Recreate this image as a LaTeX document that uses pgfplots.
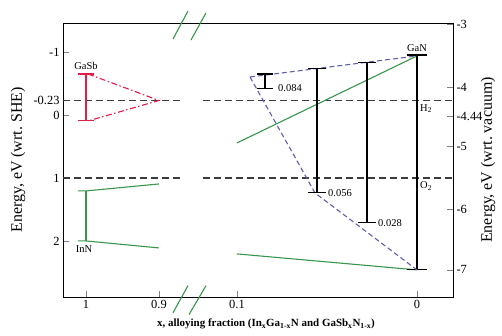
\documentclass[border=0pt]{standalone}
\usepackage{fontspec}
\setmainfont{Liberation Serif}
\usepackage{pgfplots}
\pgfplotsset{compat=1.18}
\definecolor{myred}{RGB}{225,30,70}
\definecolor{mygreen}{RGB}{55,150,75}
\definecolor{myblue}{RGB}{95,95,175}
\definecolor{mygray}{RGB}{60,60,60}
\begin{document}
\begin{tikzpicture}
\useasboundingbox (-63bp,-39bp) rectangle (439bp,297bp);
\begin{axis}[
 at={(0,0)}, anchor=south west,
 scale only axis, width=390bp, height=274bp,
 xmin=63, xmax=453, ymin=-1.46, ymax=2.89, y dir=reverse,
 xtick={86,159,237,417}, xticklabels={1,0.9,0.1,0},
 ytick={-1,-0.23,0,1,2}, yticklabels={-1,-0.23,0,1,2},
 xtick pos=bottom, ytick pos=left, tick align=inside,
 major tick length=6bp,
 tick label style={font=\fontsize{12.5}{14}\selectfont},
 ylabel={Energy, eV (wrt.\ SHE)},
 ylabel style={font=\fontsize{16}{18}\selectfont, at={(axis description cs:-0.115,0.5)}, anchor=center},
 xlabel={\textbf{x, alloying fraction (In\textsubscript{x}Ga\textsubscript{1-x}N and GaSb\textsubscript{x}N\textsubscript{1-x})}},
 xlabel style={font=\fontsize{11}{13}\selectfont, xshift=8bp, yshift=-3bp},
 clip=false,
 every axis plot/.append style={line width=1.1bp},
]
% reference levels
\addplot[mygray, dash pattern=on 7bp off 4bp] coordinates {(63,-0.23) (182,-0.23)};
\addplot[mygray, dash pattern=on 7bp off 4bp] coordinates {(203,-0.23) (453,-0.23)};
\addplot[mygray, dash pattern=on 7bp off 4bp] coordinates {(63,1) (182,1)};
\addplot[mygray, dash pattern=on 7bp off 4bp] coordinates {(203,1) (453,1)};
% GaSb
\addplot[myred] coordinates {(86,-0.651) (86,0.095)};
\addplot[myred] coordinates {(78,-0.651) (94,-0.651)};
\addplot[myred] coordinates {(78,0.095) (94,0.095)};
\addplot[myred, dash pattern=on 6bp off 2.5bp on 1.5bp off 2.5bp] coordinates {(88,-0.651) (159,-0.23) (88,0.095)};
% InN
\addplot[mygreen] coordinates {(86,1.206) (86,2.0)};
\addplot[mygreen] coordinates {(78,1.206) (86,1.206) (159,1.095)};
\addplot[mygreen] coordinates {(78,2.0) (86,2.0) (159,2.111)};
% InGaN right part
\addplot[mygreen] coordinates {(237,0.444) (417,-0.937)};
\addplot[mygreen] coordinates {(237,2.206) (417,2.46)};
% GaN
\addplot[black] coordinates {(417,-0.952) (417,2.46)};
\addplot[black] coordinates {(407,-0.952) (427,-0.952)};
\addplot[black] coordinates {(407,2.46) (427,2.46)};
% GaSbN
\addplot[myblue, dash pattern=on 5bp off 3bp] coordinates {(250,-0.603) (417,-0.937)};
\addplot[myblue, dash pattern=on 5bp off 3bp] coordinates {(250,-0.603) (315,1.238) (417,2.46)};
% gaps
\addplot[black] coordinates {(317,-0.737) (317,1.238)};
\addplot[black] coordinates {(308,-0.737) (326,-0.737)};
\addplot[black] coordinates {(308,1.238) (326,1.238)};
\addplot[black] coordinates {(367,-0.837) (367,1.714)};
\addplot[black] coordinates {(358,-0.837) (376,-0.837)};
\addplot[black] coordinates {(358,1.714) (376,1.714)};
\addplot[black] coordinates {(265,-0.651) (265,-0.413)};
\addplot[black] coordinates {(257,-0.651) (273,-0.651)};
\addplot[black] coordinates {(257,-0.413) (273,-0.413)};
% labels
\node[font=\fontsize{10.5}{12}\selectfont, anchor=west, inner sep=1pt] at (axis cs:277,-0.42) {0.084};
\node[font=\fontsize{10.5}{12}\selectfont, anchor=west, inner sep=1pt] at (axis cs:327,1.238) {0.056};
\node[font=\fontsize{10.5}{12}\selectfont, anchor=west, inner sep=1pt] at (axis cs:377,1.714) {0.028};
\node[font=\fontsize{10.5}{12}\selectfont, anchor=south, inner sep=1pt] at (axis cs:86,-0.70) {GaSb};
\node[font=\fontsize{10.5}{12}\selectfont, anchor=north, inner sep=1pt] at (axis cs:84,2.06) {InN};
\node[font=\fontsize{10.5}{12}\selectfont, anchor=south, inner sep=1pt] at (axis cs:417,-0.99) {GaN};
\node[font=\fontsize{10.5}{12}\selectfont, anchor=north west, inner sep=1pt] at (axis cs:419,-0.19) {H\textsubscript{2}};
\node[font=\fontsize{10.5}{12}\selectfont, anchor=north west, inner sep=1pt] at (axis cs:419,1.04) {O\textsubscript{2}};
% axis break marks
\draw[mygreen, line width=1.1bp] (axis cs:173,-1.206) -- (axis cs:188,-1.65);
\draw[mygreen, line width=1.1bp] (axis cs:191,-1.19) -- (axis cs:206,-1.62);
\draw[mygreen, line width=1.1bp] (axis cs:173,3.14) -- (axis cs:188,2.71);
\draw[mygreen, line width=1.1bp] (axis cs:189,3.17) -- (axis cs:206,2.71);
\end{axis}
\begin{axis}[
 at={(0,0)}, anchor=south west,
 scale only axis, width=390bp, height=274bp,
 xmin=63, xmax=453, ymin=-1.46, ymax=2.89, y dir=reverse,
 axis x line=none, axis y line*=right,
 ytick={-1.44,-0.44,0.02,0.5,1.5,2.46}, yticklabels={-3,-4,-4.44,-5,-6,-7},
 tick align=inside, major tick length=6bp,
 tick label style={font=\fontsize{12.5}{14}\selectfont},
 ylabel={Energy, eV (wrt.\ vacuum)},
 ylabel style={font=\fontsize{16}{18}\selectfont, at={(axis description cs:1.09,0.5)}, anchor=center},
]
\end{axis}
\end{tikzpicture}
\end{document}
